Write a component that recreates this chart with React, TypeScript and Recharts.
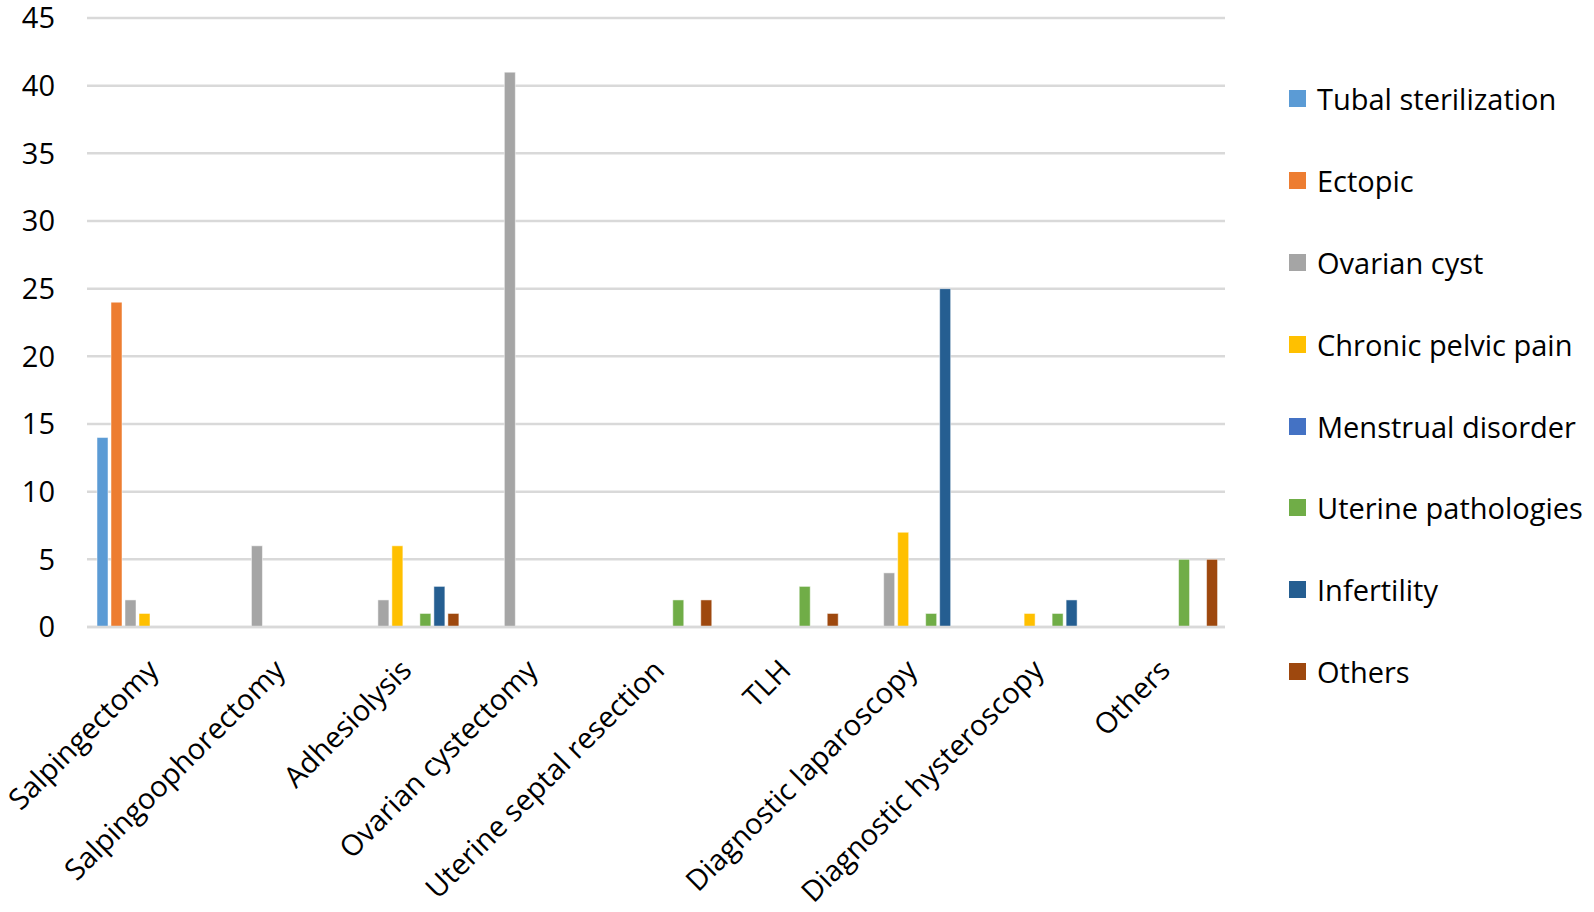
import { BarChart, Bar, XAxis, YAxis, CartesianGrid } from "recharts";

const categories = [
  "Salpingectomy",
  "Salpingoophorectomy",
  "Adhesiolysis",
  "Ovarian cystectomy",
  "Uterine septal resection",
  "TLH",
  "Diagnostic laparoscopy",
  "Diagnostic hysteroscopy",
  "Others",
];

const seriesNames = [
  "Tubal sterilization",
  "Ectopic",
  "Ovarian cyst",
  "Chronic pelvic pain",
  "Menstrual disorder",
  "Uterine pathologies",
  "Infertility",
  "Others",
];

const COLORS = ["#5b9bd5", "#ed7d31", "#a5a5a5", "#ffc000", "#4472c4", "#70ad47", "#255e91", "#9e480e"];

// one array per series, in category order
const tubal = [14, 0, 0, 0, 0, 0, 0, 0, 0];
const ectopic = [24, 0, 0, 0, 0, 0, 0, 0, 0];
const ovarian = [2, 6, 2, 41, 0, 0, 4, 0, 0];
const chronic = [1, 0, 6, 0, 0, 0, 7, 1, 0];
const menstrual = [0, 0, 0, 0, 0, 0, 0, 0, 0];
const uterine = [0, 0, 1, 0, 2, 3, 1, 1, 5];
const infertility = [0, 0, 3, 0, 0, 0, 25, 2, 0];
const others = [0, 0, 1, 0, 2, 1, 0, 0, 5];

const yTicks = [0, 5, 10, 15, 20, 25, 30, 35, 40, 45];

const seriesValues = [tubal, ectopic, ovarian, chronic, menstrual, uterine, infertility, others];

const data = categories.map((name, i) => {
  const row: Record<string, string | number> = { name };
  seriesNames.forEach((s, j) => {
    row["s" + j] = seriesValues[j][i];
  });
  return row;
});

const FONT = "'Open Sans', sans-serif";
const FS = 29;

function CategoryTick(props: any) {
  const { x, y, payload } = props;
  return (
    <g transform={`translate(${x + 3},${y + 30})`}>
      <text
        x={0}
        y={0}
        dy={10}
        textAnchor="end"
        transform="rotate(-45)"
        fill="#000"
        fontSize={FS}
        fontFamily={FONT}
      >
        {payload.value}
      </text>
    </g>
  );
}

export default function App() {
  return (
    <div style={{ position: "absolute", left: 0, top: 0, width: 1594, height: 912, background: "#fff" }}>
      <BarChart
        width={1594}
        height={912}
        data={data}
        margin={{ top: 18, right: 369, bottom: 0, left: 0 }}
        barCategoryGap={10}
        barGap={3}
      >
        <CartesianGrid vertical={false} stroke="#d9d9d9" strokeWidth={2.5} />
        <XAxis
          dataKey="name"
          interval={0}
          height={285}
          tickLine={false}
          axisLine={{ stroke: "#d9d9d9", strokeWidth: 2.5 }}
          tick={<CategoryTick />}
        />
        <YAxis
          width={87}
          domain={[0, 45]}
          ticks={yTicks}
          interval={0}
          tickLine={false}
          axisLine={false}
          tickMargin={26}
          tick={{ fill: "#000", fontSize: FS, fontFamily: FONT }}
        />
        {seriesNames.map((s, i) => (
          <Bar
            key={s}
            dataKey={"s" + i}
            name={s}
            fill={COLORS[i]}
            stroke="#ffffff"
            strokeWidth={0.5}
            isAnimationActive={false}
          />
        ))}
      </BarChart>
      <div style={{ position: "absolute", left: 1289, top: 58, fontFamily: FONT, fontSize: FS, color: "#000" }}>
        {seriesNames.map((s, i) => (
          <div key={s} style={{ display: "flex", alignItems: "center", height: 81.8, whiteSpace: "nowrap" }}>
            <span style={{ display: "inline-block", width: 17, height: 17, background: COLORS[i], marginRight: 11 }} />
            <span>{s}</span>
          </div>
        ))}
      </div>
    </div>
  );
}
